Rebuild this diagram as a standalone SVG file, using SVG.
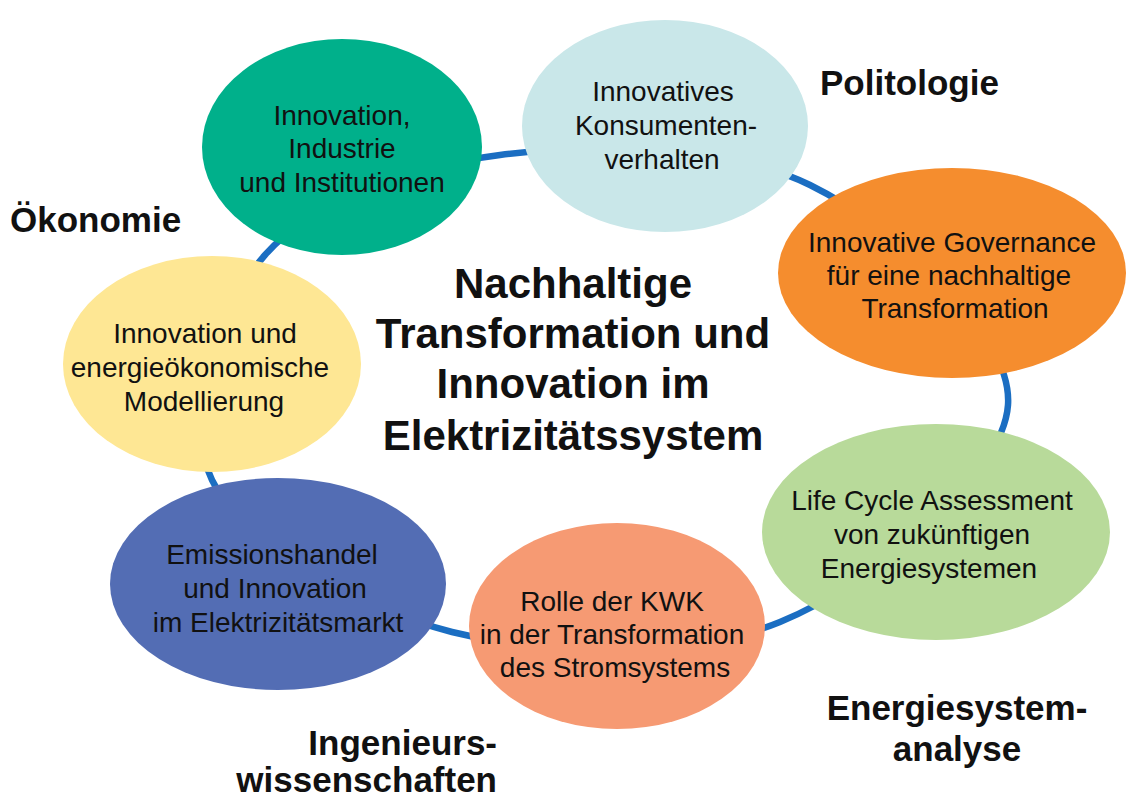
<svg xmlns="http://www.w3.org/2000/svg" width="1128" height="798" viewBox="0 0 1128 798">
<style>
.node text{font-family:"Liberation Sans",Arial,sans-serif;font-size:28px;fill:#111;text-anchor:middle}
.lbl{font-family:"Liberation Sans",Arial,sans-serif;font-size:35px;font-weight:bold;fill:#111}
.title{font-family:"Liberation Sans",Arial,sans-serif;font-size:42px;font-weight:bold;fill:#111;text-anchor:middle}
.ring{fill:none;stroke:#1B6EC2;stroke-width:6.5}
</style>
<rect width="1128" height="798" fill="#fff"/>
<g id="connectors">
<path class="ring" d="M265,255 C313,200.8 409.2,166.7 500,155 C590.8,143.3 725.3,143.3 810,185 C894.7,226.7 1013,332.2 1008,405 C1003,477.8 872.7,584.2 780,622 C687.3,659.8 546.7,655.7 452,632 C357.3,608.3 243.2,542.8 212,480 C180.8,417.2 217,309.2 265,255 Z"/>
</g>
<g id="n-industrie" class="node">
<ellipse cx="342" cy="147" rx="140" ry="108" fill="#00B08B"/>
<text x="342" y="125">Innovation,</text>
<text x="342" y="158">Industrie</text>
<text x="342" y="192">und Institutionen</text>
</g>
<g id="n-konsumenten" class="node">
<ellipse cx="665" cy="126" rx="143" ry="106" fill="#C9E7E9"/>
<text x="663" y="101">Innovatives</text>
<text x="666" y="135">Konsumenten-</text>
<text x="662" y="169">verhalten</text>
</g>
<g id="n-governance" class="node">
<ellipse cx="952" cy="273" rx="174" ry="105" fill="#F58D2E"/>
<text x="952" y="252">Innovative Governance</text>
<text x="949" y="285">für eine nachhaltige</text>
<text x="955" y="318">Transformation</text>
</g>
<g id="n-lca" class="node">
<ellipse cx="936" cy="532" rx="174" ry="108" fill="#B8DA9A"/>
<text x="932" y="510">Life Cycle Assessment</text>
<text x="932" y="544">von zukünftigen</text>
<text x="929" y="578">Energiesystemen</text>
</g>
<g id="n-kwk" class="node">
<ellipse cx="617" cy="626" rx="148" ry="103" fill="#F69A73"/>
<text x="612" y="611">Rolle der KWK</text>
<text x="612" y="644">in der Transformation</text>
<text x="615" y="677">des Stromsystems</text>
</g>
<g id="n-emission" class="node">
<ellipse cx="278" cy="584" rx="168" ry="106" fill="#536DB4"/>
<text x="272" y="564">Emissionshandel</text>
<text x="275" y="598">und Innovation</text>
<text x="278" y="632">im Elektrizitätsmarkt</text>
</g>
<g id="n-modellierung" class="node">
<ellipse cx="212" cy="364" rx="149" ry="108" fill="#FEE794"/>
<text x="205" y="343">Innovation und</text>
<text x="200" y="377">energieökonomische</text>
<text x="204" y="411">Modellierung</text>
</g>
<g id="title">
<text class="title" x="573" y="298">Nachhaltige</text>
<text class="title" x="573" y="348">Transformation und</text>
<text class="title" x="573" y="398">Innovation im</text>
<text class="title" x="573" y="450">Elektrizitätssystem</text>
</g>
<g id="labels">
<text class="lbl" x="820" y="95">Politologie</text>
<text class="lbl" x="10" y="232">Ökonomie</text>
<text class="lbl" x="497" y="755" text-anchor="end">Ingenieurs-</text>
<text class="lbl" x="497" y="792" text-anchor="end">wissenschaften</text>
<text class="lbl" x="957" y="720" text-anchor="middle">Energiesystem-</text>
<text class="lbl" x="957" y="761" text-anchor="middle">analyse</text>
</g>
</svg>
